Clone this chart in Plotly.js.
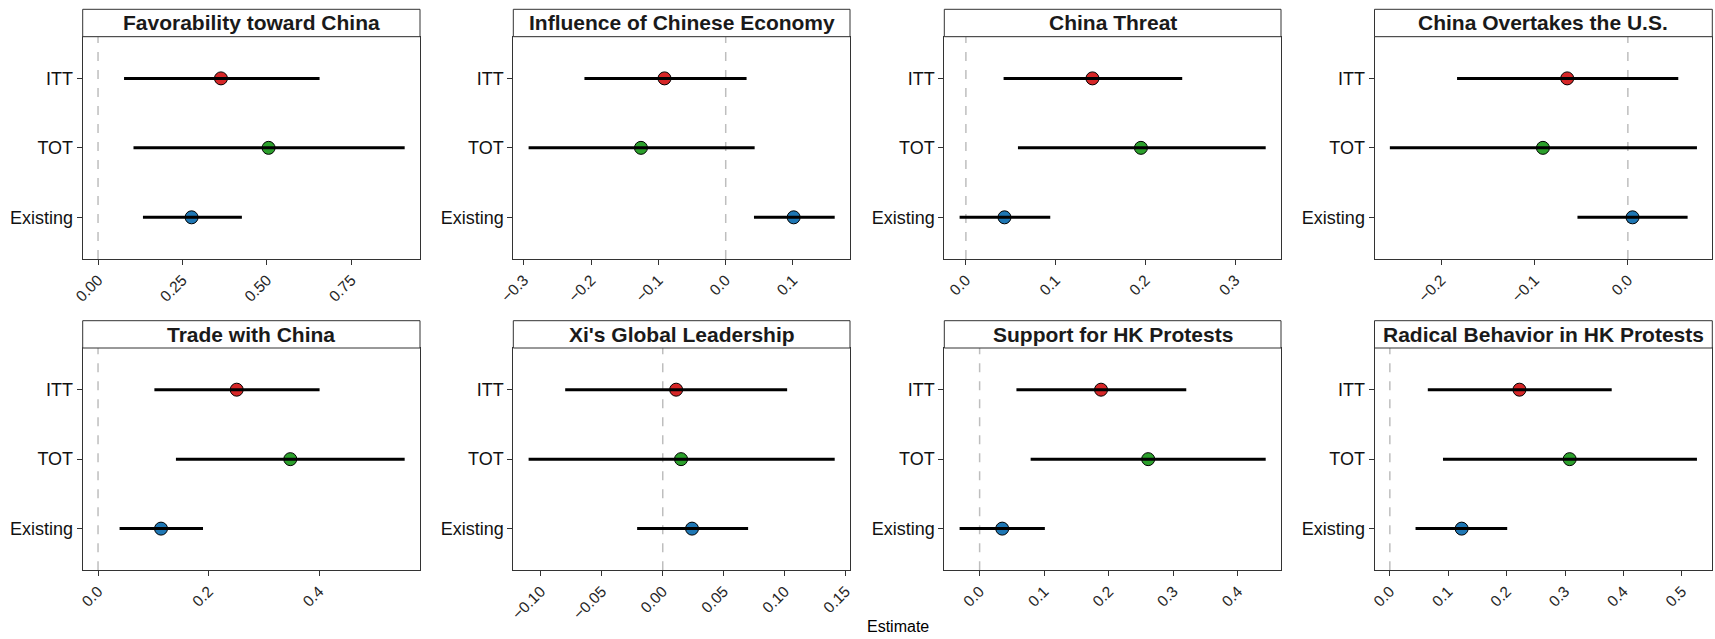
<!DOCTYPE html>
<html>
<head>
<meta charset="utf-8">
<script src="https://cdn.plot.ly/plotly-3.0.1.min.js"></script>
<style>
  html, body { margin: 0; padding: 0; background: #ffffff; }
  #chart { width: 1715px; height: 639px; }
</style>
</head>
<body>
<div id="chart"></div>
<script>
// Outcome panels, in reading order (left to right, top row first)
const outcomes = [
  "Favorability toward China",
  "Influence of Chinese Economy",
  "China Threat",
  "China Overtakes the U.S.",
  "Trade with China",
  "Xi's Global Leadership",
  "Support for HK Protests",
  "Radical Behavior in HK Protests"
];

// Estimator rows, bottom to top
const estimators = ["Existing", "TOT", "ITT"];

// Point estimates and 95% intervals, one value per outcome
const ittEst = [0.364, -0.091, 0.141, -0.065, 0.251, 0.011, 0.188, 0.222];
const ittLo  = [0.077, -0.210, 0.042, -0.183, 0.102, -0.080, 0.057, 0.065];
const ittHi  = [0.656, 0.031, 0.241, 0.054, 0.401, 0.102, 0.320, 0.380];

const totEst = [0.505, -0.126, 0.195, -0.091, 0.348, 0.015, 0.261, 0.308];
const totLo  = [0.105, -0.293, 0.058, -0.255, 0.141, -0.110, 0.079, 0.091];
const totHi  = [0.908, 0.043, 0.334, 0.074, 0.555, 0.141, 0.443, 0.526];

const exiEst = [0.277, 0.101, 0.043, 0.005, 0.114, 0.024, 0.035, 0.123];
const exiLo  = [0.133, 0.042, -0.007, -0.054, 0.039, -0.021, -0.031, 0.044];
const exiHi  = [0.426, 0.162, 0.094, 0.064, 0.190, 0.070, 0.101, 0.201];

// Tick spacing and label format per panel
const tickStep   = [0.25, 0.1, 0.1, 0.1, 0.2, 0.05, 0.1, 0.1];
const tickFormat = [".2f", ".1f", ".1f", ".1f", ".1f", ".2f", ".1f", ".1f"];

// Marker fill for Existing, TOT, ITT
const estimatorColors = ["#1F77B4", "#2CA02C", "#D62728"];

// ---- layout geometry (pixels) ----
const W = 1715, H = 639;
const cols = [[82.7, 420], [513.3, 850], [944.3, 1281], [1374.5, 1712.3]];
const rows = [
  { stripTop: 9.3,   top: 36.7, bottom: 259 },
  { stripTop: 320.7, top: 348,  bottom: 570.3 }
];
const px = v => v / W;
const py = v => 1 - v / H;

const FONT = "Liberation Sans, Arial, Helvetica, sans-serif";
const data = [];
const layout = {
  width: W, height: H,
  margin: { l: 0, r: 0, t: 0, b: 0 },
  paper_bgcolor: "#ffffff",
  plot_bgcolor: "#ffffff",
  showlegend: false,
  font: { family: FONT, color: "#000000" },
  shapes: [],
  annotations: []
};

outcomes.forEach((title, i) => {
  const r = rows[Math.floor(i / 4)];
  const c = cols[i % 4];
  const n = i + 1;
  const xa = "x" + (n === 1 ? "" : n);
  const ya = "y" + (n === 1 ? "" : n);
  const xKey = "xaxis" + (n === 1 ? "" : n);
  const yKey = "yaxis" + (n === 1 ? "" : n);

  const est = [exiEst[i], totEst[i], ittEst[i]];
  const lo  = [exiLo[i],  totLo[i],  ittLo[i]];
  const hi  = [exiHi[i],  totHi[i],  ittHi[i]];

  // axis range: data span including the zero line, padded 5% on each side
  const mn = Math.min(0, ...lo), mx = Math.max(0, ...hi);
  const pad = (mx - mn) * 0.05;

  // points
  data.push({
    type: "scatter", mode: "markers",
    x: est, y: estimators,
    xaxis: xa, yaxis: ya,
    marker: { size: 13, color: estimatorColors, line: { color: "#000000", width: 1 } },
    hoverinfo: "x+y"
  });

  // interval segments, drawn over the points
  const segX = [], segY = [];
  estimators.forEach((e, k) => { segX.push(lo[k], hi[k], null); segY.push(e, e, null); });
  data.push({
    type: "scatter", mode: "lines",
    x: segX, y: segY,
    xaxis: xa, yaxis: ya,
    line: { color: "#000000", width: 3 },
    hoverinfo: "skip"
  });

  layout[xKey] = {
    domain: [px(c[0]), px(c[1])],
    anchor: ya,
    range: [mn - pad, mx + pad],
    tick0: 0, dtick: tickStep[i], tickformat: tickFormat[i],
    tickangle: -45,
    ticks: "outside", ticklen: 5, tickwidth: 1, tickcolor: "#333333",
    tickfont: { family: FONT, size: 15.5, color: "#262626" },
    showgrid: false, zeroline: false,
    showline: true, mirror: true, linecolor: "#333333", linewidth: 1
  };
  layout[yKey] = {
    domain: [py(r.bottom), py(r.top)],
    anchor: xa,
    type: "category",
    categoryorder: "array", categoryarray: estimators,
    range: [-0.6, 2.6],
    ticks: "outside", ticklen: 5, tickwidth: 1, tickcolor: "#333333",
    tickfont: { family: FONT, size: 18, color: "#111111" },
    showgrid: false, zeroline: false,
    showline: true, mirror: true, linecolor: "#333333", linewidth: 1
  };

  // dashed reference line at zero
  layout.shapes.push({
    type: "line", xref: xa, yref: ya + " domain",
    x0: 0, x1: 0, y0: 0, y1: 1,
    line: { color: "#BEBEBE", width: 1.5, dash: "dash" },
    layer: "below"
  });

  // facet strip
  layout.shapes.push({
    type: "rect", xref: "paper", yref: "paper",
    x0: px(c[0]), x1: px(c[1]), y0: py(r.top), y1: py(r.stripTop),
    fillcolor: "#ffffff", line: { color: "#333333", width: 1 }
  });
  layout.annotations.push({
    xref: "paper", yref: "paper",
    x: px((c[0] + c[1]) / 2), y: py((r.top + r.stripTop) / 2),
    xanchor: "center", yanchor: "middle", showarrow: false,
    text: "<b>" + title + "</b>",
    font: { family: FONT, size: 21, color: "#1A1A1A" }
  });
});

// shared x-axis title
layout.annotations.push({
  xref: "paper", yref: "paper",
  x: px((cols[0][0] + cols[3][1]) / 2), y: py(626),
  xanchor: "center", yanchor: "middle", showarrow: false,
  text: "Estimate",
  font: { family: FONT, size: 16, color: "#000000" }
});

Plotly.newPlot("chart", data, layout, { staticPlot: true, displayModeBar: false });
</script>
</body>
</html>
